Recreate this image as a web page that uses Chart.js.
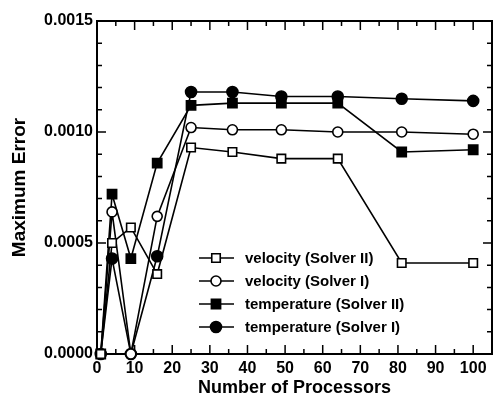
<!DOCTYPE html>
<html>
<head>
<meta charset="utf-8">
<script src="https://cdn.jsdelivr.net/npm/chart.js"></script>
<style>
    body { margin: 0; background: #fff; }
    canvas { display: block; }
</style>
</head>
<body>
<canvas id="chart" width="493" height="397"></canvas>
<script>
const processors = [1, 4, 9, 16, 25, 36, 49, 64, 81, 100];

const velocitySolver2    = [0, 0.00050, 0.00057, 0.00036, 0.00093, 0.00091, 0.00088, 0.00088, 0.00041, 0.00041];
const velocitySolver1    = [0, 0.00064, 0,       0.00062, 0.00102, 0.00101, 0.00101, 0.00100, 0.00100, 0.00099];
const temperatureSolver2 = [0, 0.00072, 0.00043, 0.00086, 0.00112, 0.00113, 0.00113, 0.00113, 0.00091, 0.00092];
const temperatureSolver1 = [0, 0.00043, 0,       0.00044, 0.00118, 0.00118, 0.00116, 0.00116, 0.00115, 0.00114];

const seriesNames = ["velocity (Solver II)", "velocity (Solver I)", "temperature (Solver II)", "temperature (Solver I)"];

const xTicks = [0, 10, 20, 30, 40, 50, 60, 70, 80, 90, 100];
const yTicks = [0, 0.0005, 0.0010, 0.0015];

const FONT = "'Liberation Sans', Arial, sans-serif";
Chart.defaults.font.family = FONT;
Chart.defaults.color = "#000";

function toPoints(values) {
    return processors.map((x, i) => ({ x: x, y: values[i] }));
}

function series(label, values, style, radius, filled) {
    return {
        label: label,
        data: toPoints(values),
        borderColor: "#000",
        borderWidth: 1.6,
        pointStyle: style,
        pointRadius: radius,
        pointHoverRadius: radius,
        pointBorderWidth: 1.6,
        pointBorderColor: "#000",
        pointBackgroundColor: filled ? "#000" : "#fff",
        tension: 0,
        clip: false
    };
}

function drawMarker(ctx, style, x, y, r, filled) {
    ctx.beginPath();
    if (style === "rect") {
        const s = Math.SQRT1_2 * r;
        ctx.rect(x - s, y - s, 2 * s, 2 * s);
    } else {
        ctx.arc(x, y, r, 0, Math.PI * 2);
    }
    ctx.fillStyle = filled ? "#000" : "#fff";
    ctx.fill();
    ctx.lineWidth = 1.6;
    ctx.strokeStyle = "#000";
    ctx.stroke();
}

// box round the plot with ticks pointing inward on all four sides
const framePlugin = {
    id: "frame",
    beforeDatasetsDraw(chart) {
        const { ctx, chartArea: a, scales } = chart;
        const xs = scales.x, ys = scales.y;
        ctx.save();
        ctx.strokeStyle = "#000";
        ctx.lineWidth = 2;
        ctx.strokeRect(a.left, a.top, a.right - a.left, a.bottom - a.top);

        ctx.lineWidth = 1.5;
        ctx.beginPath();
        for (let v = 0; v <= 100; v += 5) {
            const px = xs.getPixelForValue(v);
            const len = v % 10 === 0 ? 9 : 5;
            ctx.moveTo(px, a.bottom);
            ctx.lineTo(px, a.bottom - len);
            ctx.moveTo(px, a.top);
            ctx.lineTo(px, a.top + len);
        }
        for (let k = 0; k <= 15; k++) {
            const py = ys.getPixelForValue(k * 0.0001);
            const len = k % 5 === 0 ? 9 : 5;
            ctx.moveTo(a.left, py);
            ctx.lineTo(a.left + len, py);
            ctx.moveTo(a.right, py);
            ctx.lineTo(a.right - len, py);
        }
        ctx.stroke();
        ctx.restore();
    }
};

const legendPlugin = {
    id: "insideLegend",
    afterDatasetsDraw(chart) {
        const ctx = chart.ctx;
        ctx.save();
        chart.data.datasets.forEach((ds, i) => {
            const y = 258 + i * 23;
            ctx.beginPath();
            ctx.moveTo(199, y);
            ctx.lineTo(234, y);
            ctx.lineWidth = 1.6;
            ctx.strokeStyle = "#000";
            ctx.stroke();
            drawMarker(ctx, ds.pointStyle, 216, y, ds.pointRadius, ds.pointBackgroundColor === "#000");
            ctx.fillStyle = "#000";
            ctx.font = "bold 15px " + FONT;
            ctx.textBaseline = "middle";
            ctx.fillText(ds.label, 245, y + 1);
        });
        ctx.restore();
    }
};

new Chart(document.getElementById("chart"), {
    type: "line",
    data: {
        datasets: [
            series(seriesNames[0], velocitySolver2, "rect", 6, false),
            series(seriesNames[1], velocitySolver1, "circle", 5, false),
            series(seriesNames[2], temperatureSolver2, "rect", 6.5, true),
            series(seriesNames[3], temperatureSolver1, "circle", 5.5, true)
        ]
    },
    options: {
        responsive: false,
        animation: false,
        layout: { autoPadding: false, padding: { top: 21, right: 1, left: 0, bottom: 0 } },
        plugins: {
            legend: { display: false },
            tooltip: { enabled: false }
        },
        scales: {
            x: {
                type: "linear",
                min: 0,
                max: 105,
                grid: { display: false, drawTicks: false },
                border: { display: false },
                afterBuildTicks: s => { s.ticks = xTicks.map(v => ({ value: v })); },
                afterFit: s => { s.height = 43; s.paddingLeft = 0; s.paddingRight = 0; },
                ticks: {
                    padding: 5,
                    maxRotation: 0,
                    font: { size: 16, weight: "bold" }
                },
                title: {
                    display: true,
                    text: "Number of Processors",
                    padding: { top: 0, bottom: -2 },
                    font: { size: 18, weight: "bold" }
                }
            },
            y: {
                min: 0,
                max: 0.0015,
                grid: { display: false, drawTicks: false },
                border: { display: false },
                afterBuildTicks: s => { s.ticks = yTicks.map(v => ({ value: v })); },
                afterFit: s => { s.width = 97; },
                ticks: {
                    padding: 4,
                    font: { size: 16, weight: "bold" },
                    callback: v => v.toFixed(4)
                },
                title: {
                    display: true,
                    text: "Maximum Error",
                    padding: { top: 8, bottom: 0 },
                    font: { size: 19, weight: "bold" }
                }
            }
        }
    },
    plugins: [framePlugin, legendPlugin]
});
</script>
</body>
</html>
